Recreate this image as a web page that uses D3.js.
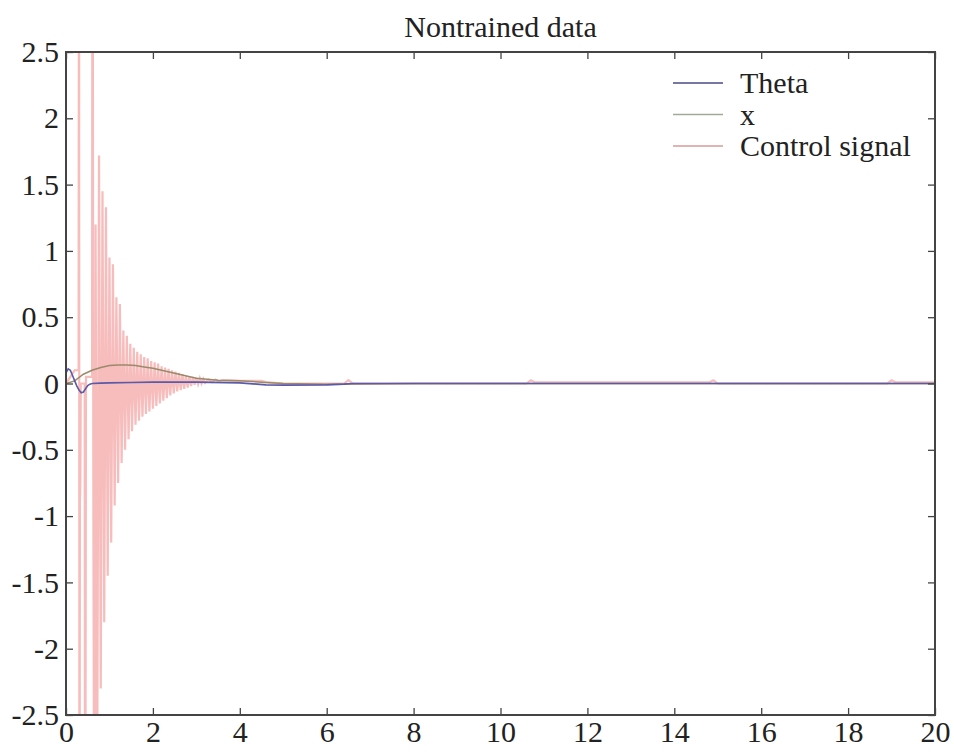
<!DOCTYPE html>
<html>
<head>
<meta charset="utf-8">
<script src="https://cdn.jsdelivr.net/npm/d3@7"></script>
<style>
  body { margin: 0; background: #fff; }
  text { font-family: "Liberation Serif", "Times New Roman", Times, serif; fill: #222; }
</style>
</head>
<body>
<div id="chart"></div>
<script>
// values
var xTicks = [0, 2, 4, 6, 8, 10, 12, 14, 16, 18, 20];
var yTicks = [-2.5, -2, -1.5, -1, -0.5, 0, 0.5, 1, 1.5, 2, 2.5];
var legendNames = ["Theta", "x", "Control signal"];

var thetaT = [0, 0.05, 0.1, 0.15, 0.2, 0.25, 0.3, 0.35, 0.4, 0.45, 0.5, 0.55, 0.6, 0.8, 1.0, 1.5, 2.0, 3.0, 4.0, 4.6, 5.0, 6.0, 6.4, 6.6, 8, 12, 16, 20];
var thetaV = [0.08, 0.11, 0.10, 0.06, 0.02, -0.02, -0.05, -0.07, -0.065, -0.04, -0.015, -0.005, 0.0, 0.003, 0.005, 0.008, 0.01, 0.01, 0.005, -0.01, -0.012, -0.01, -0.005, 0, 0, 0, 0, 0];

var xT = [0, 0.2, 0.4, 0.6, 0.8, 1.0, 1.2, 1.4, 1.6, 1.8, 2.0, 2.2, 2.4, 2.6, 2.8, 3.0, 3.5, 4.0, 4.5, 5.0, 6, 8, 20];
var xV = [0, 0.02, 0.07, 0.1, 0.12, 0.135, 0.14, 0.14, 0.135, 0.125, 0.115, 0.1, 0.085, 0.07, 0.055, 0.04, 0.025, 0.02, 0.01, 0.0, -0.005, 0, 0];

var ctrlT = [0, 0.1, 0.2, 0.29, 0.30, 0.31, 0.32, 0.33, 0.34, 0.43, 0.44, 0.46, 0.6, 0.61, 0.63, 0.66, 0.68,
  0.72, 0.76, 0.80, 0.84, 0.88, 0.92, 0.96, 1.00, 1.04, 1.08, 1.12, 1.16, 1.20, 1.24, 1.28, 1.32, 1.36, 1.40,
  1.44, 1.48, 1.52, 1.56, 1.60, 1.64, 1.68, 1.72, 1.76, 1.80, 1.84, 1.88, 1.92, 1.96, 2.00, 2.04, 2.08, 2.12,
  2.16, 2.20, 2.24, 2.28, 2.32, 2.36, 2.40, 2.44, 2.48, 2.52, 2.56, 2.60, 2.64, 2.68, 2.72, 2.76, 2.80, 2.84,
  2.88, 2.92, 2.96, 3.00, 3.04, 3.08, 3.12, 3.16, 3.20, 3.28, 3.36, 3.44, 3.52, 3.60,
  4.0, 4.5, 4.6, 5.0, 6.0, 6.4, 6.5, 6.6, 8, 10.6, 10.7, 10.8, 12, 14.8, 14.9, 15.0, 18.9, 19.0, 19.1, 20];
var ctrlU = [0, 0.05, 0.1, 0.1, 5, -5, -0.9, -0.75, 0.0, 0.0, -5, 0.05, 0.05, 5, -1, -5, 1.2,
  -2.8, 1.72, -2.3, 1.45, -1.8, 1.33, -1.45, 0.95, -1.2, 0.9, -0.92, 0.65, -0.75, 0.6, -0.6, 0.4, -0.5, 0.36,
  -0.42, 0.3, -0.36, 0.27, -0.31, 0.24, -0.28, 0.22, -0.25, 0.2, -0.23, 0.19, -0.21, 0.17, -0.19, 0.16, -0.17, 0.15,
  -0.15, 0.13, -0.13, 0.12, -0.11, 0.11, -0.09, 0.1, -0.075, 0.09, -0.06, 0.08, -0.05, 0.07, -0.04, 0.06, -0.03, 0.055,
  -0.02, 0.05, -0.01, 0.045, -0.005, 0.04, 0.0, 0.035, 0.005, 0.03, 0.01, 0.03, 0.015, 0.025,
  0.02, 0.02, 0.01, 0.0, 0, 0, 0.025, 0, 0, 0, 0.025, 0.008, 0.008, 0.008, 0.025, 0, 0, 0.025, 0.008, 0.008];

var width = 954, height = 752;
var margin = { top: 52, right: 19, bottom: 37, left: 66 };

var svg = d3.select("#chart").append("svg")
  .attr("width", width)
  .attr("height", height);

var x = d3.scaleLinear().domain([0, 20]).range([margin.left, width - margin.right]);
var y = d3.scaleLinear().domain([-2.5, 2.5]).range([height - margin.bottom, margin.top]);

svg.append("clipPath").attr("id", "plot")
  .append("rect")
  .attr("x", x(0)).attr("y", y(2.5))
  .attr("width", x(20) - x(0)).attr("height", y(-2.5) - y(2.5));

var line = d3.line()
  .x(function (d) { return x(d[0]); })
  .y(function (d) { return y(d[1]); });

var plot = svg.append("g").attr("clip-path", "url(#plot)");

// control signal first, the others sit on top
plot.append("path")
  .datum(d3.zip(ctrlT, ctrlU))
  .attr("d", line)
  .attr("fill", "none")
  .attr("stroke", "#f07a7a")
  .attr("stroke-opacity", 0.5)
  .attr("stroke-width", 2.2);

plot.append("path")
  .datum(d3.zip(xT, xV))
  .attr("d", line)
  .attr("fill", "none")
  .attr("stroke", "#9a8a6a")
  .attr("stroke-width", 1.5);

plot.append("path")
  .datum(d3.zip(thetaT, thetaV))
  .attr("d", line)
  .attr("fill", "none")
  .attr("stroke", "#5a5aa8")
  .attr("stroke-width", 1.6);

// axes, ticks pointing inward
var fmt = function (d) { return d3.format("")(d).replace("−", "-"); };

svg.append("g")
  .attr("transform", "translate(0," + y(-2.5) + ")")
  .call(d3.axisBottom(x).tickValues(xTicks).tickSizeInner(-7).tickSizeOuter(0).tickPadding(6).tickFormat(fmt));
svg.append("g")
  .attr("transform", "translate(" + x(0) + ",0)")
  .call(d3.axisLeft(y).tickValues(yTicks).tickSizeInner(-7).tickSizeOuter(0).tickPadding(7).tickFormat(fmt));
svg.append("g")
  .attr("transform", "translate(0," + y(2.5) + ")")
  .call(d3.axisTop(x).tickValues(xTicks).tickSizeInner(-7).tickSizeOuter(0).tickFormat(""));
svg.append("g")
  .attr("transform", "translate(" + x(20) + ",0)")
  .call(d3.axisRight(y).tickValues(yTicks).tickSizeInner(-7).tickSizeOuter(0).tickFormat(""));

svg.selectAll(".domain").remove();
svg.selectAll(".tick line").attr("stroke", "#444").attr("stroke-width", 1.3);
svg.selectAll(".tick text")
  .style("font-family", "'Liberation Serif', 'Times New Roman', serif")
  .style("font-size", "30px")
  .attr("fill", "#222");

svg.append("rect")
  .attr("x", x(0)).attr("y", y(2.5))
  .attr("width", x(20) - x(0)).attr("height", y(-2.5) - y(2.5))
  .attr("fill", "none")
  .attr("stroke", "#444")
  .attr("stroke-width", 2);

svg.append("text")
  .attr("x", (x(0) + x(20)) / 2)
  .attr("y", 37)
  .attr("text-anchor", "middle")
  .style("font-size", "30px")
  .text("Nontrained data");

// legend
var legendColors = ["#4a4a88", "#a0aa98", "#d89a9a"];
var lg = svg.append("g").attr("transform", "translate(673,83)");
legendNames.forEach(function (name, i) {
  lg.append("line")
    .attr("x1", 0).attr("x2", 50)
    .attr("y1", i * 31.5).attr("y2", i * 31.5)
    .attr("stroke", legendColors[i])
    .attr("stroke-width", 1.5);
  lg.append("text")
    .attr("x", 67)
    .attr("y", i * 31.5 + 10)
    .style("font-size", "30px")
    .text(name);
});
</script>
</body>
</html>
